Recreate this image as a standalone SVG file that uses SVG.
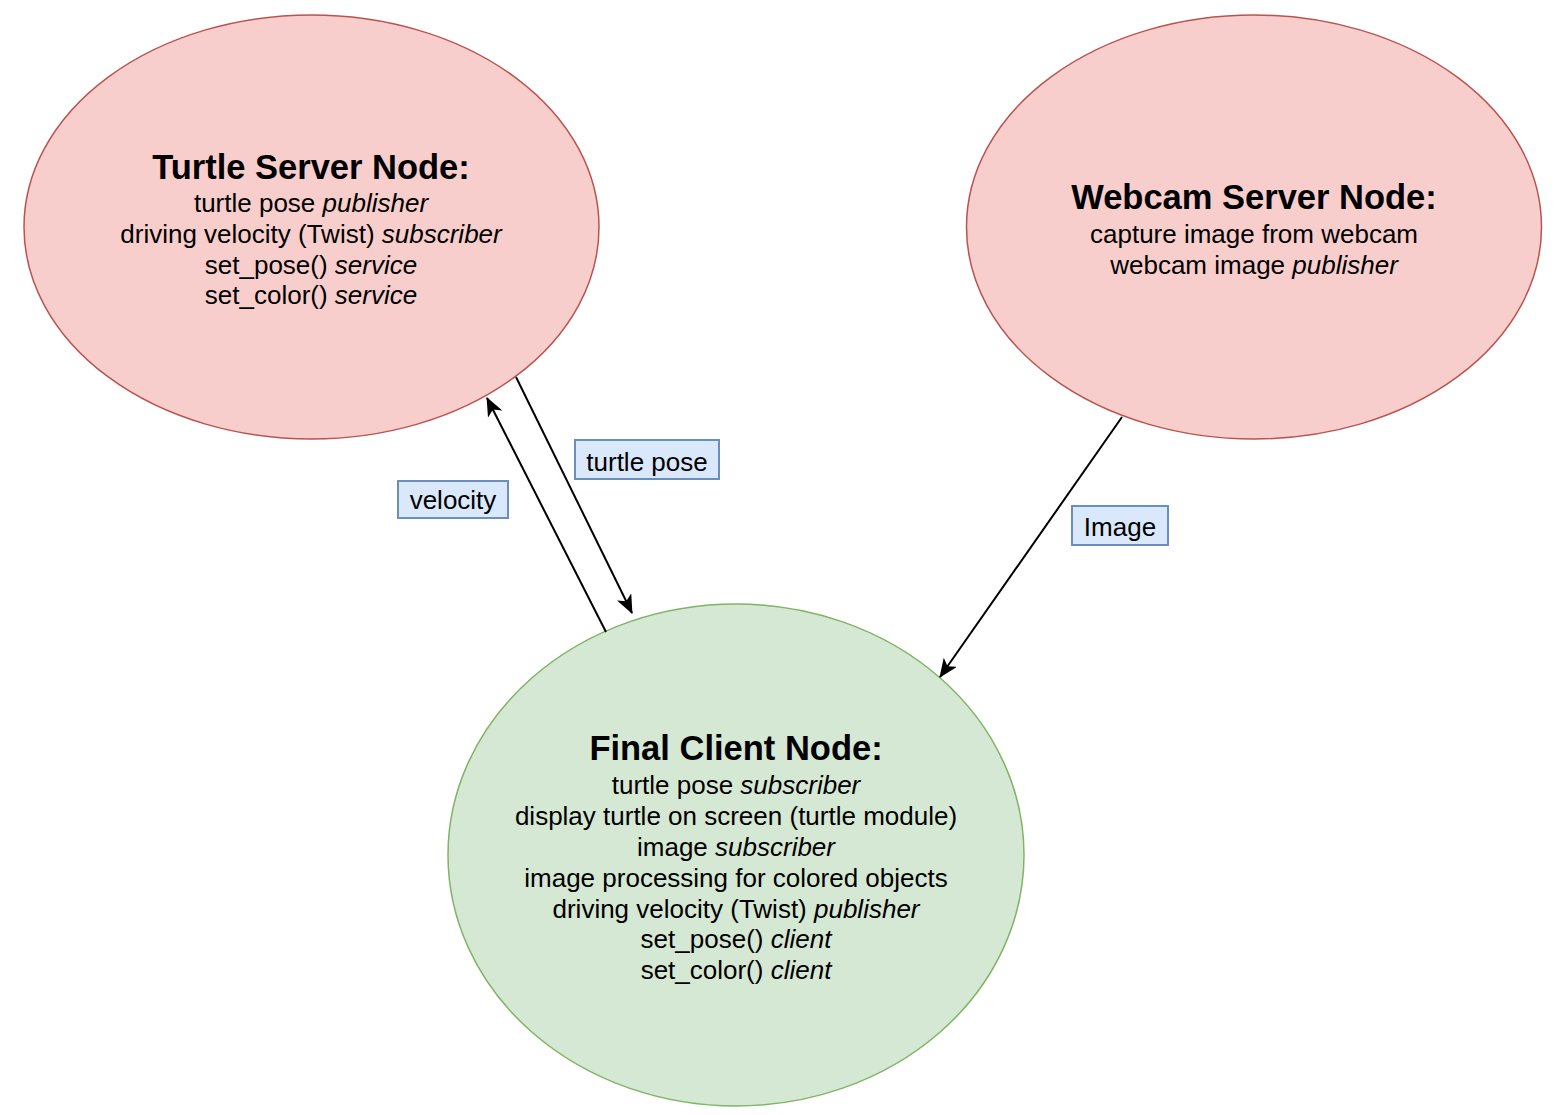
<svg xmlns="http://www.w3.org/2000/svg" width="1554" height="1115" viewBox="0 0 1554 1115">
<style>
text{font-family:"Liberation Sans",Arial,sans-serif;fill:#000;text-anchor:middle}
.t{font-size:34.5px;font-weight:bold}
.b{font-size:26px}
.i{font-style:italic}
.red{fill:#f8cecc;stroke:#b85450;stroke-width:1.5}
.green{fill:#d5e8d4;stroke:#82b366;stroke-width:1.5}
.lbl{fill:#dae8fc;stroke:#6c8ebf;stroke-width:2}
.edge{stroke:#000;stroke-width:2;fill:none;marker-end:url(#arr)}
</style>
<defs>
<marker id="arr" markerUnits="userSpaceOnUse" markerWidth="20" markerHeight="16" refX="18" refY="8" orient="auto">
<path d="M0,0 L19,8 L0,16 L5,8 Z" fill="#000"/>
</marker>
</defs>
<rect width="1554" height="1115" fill="#fff"/>
<g id="turtle-server">
<ellipse class="red" cx="311.5" cy="227" rx="287.5" ry="212"/>
<text class="t" x="311" y="179">Turtle Server Node:</text>
<text class="b" x="311" y="212">turtle pose <tspan class="i">publisher</tspan></text>
<text class="b" x="311" y="243">driving velocity (Twist) <tspan class="i">subscriber</tspan></text>
<text class="b" x="311" y="274">set_pose() <tspan class="i">service</tspan></text>
<text class="b" x="311" y="304">set_color() <tspan class="i">service</tspan></text>
</g>
<g id="webcam-server">
<ellipse class="red" cx="1254" cy="227" rx="287.5" ry="212"/>
<text class="t" x="1254" y="209">Webcam Server Node:</text>
<text class="b" x="1254" y="243">capture image from webcam</text>
<text class="b" x="1254" y="274">webcam image <tspan class="i">publisher</tspan></text>
</g>
<g id="final-client">
<ellipse class="green" cx="736" cy="855" rx="288" ry="251"/>
<text class="t" x="736" y="760">Final Client Node:</text>
<text class="b" x="736" y="794">turtle pose <tspan class="i">subscriber</tspan></text>
<text class="b" x="736" y="825">display turtle on screen (turtle module)</text>
<text class="b" x="736" y="856">image <tspan class="i">subscriber</tspan></text>
<text class="b" x="736" y="887">image processing for colored objects</text>
<text class="b" x="736" y="918">driving velocity (Twist) <tspan class="i">publisher</tspan></text>
<text class="b" x="736" y="948">set_pose() <tspan class="i">client</tspan></text>
<text class="b" x="736" y="979">set_color() <tspan class="i">client</tspan></text>
</g>
<g id="connectors">
<line class="edge" x1="516" y1="377" x2="632" y2="613"/>
<line class="edge" x1="606" y1="632" x2="487" y2="398"/>
<line class="edge" x1="1122" y1="417" x2="940" y2="677"/>
</g>
<g id="label-velocity">
<rect class="lbl" x="398" y="481" width="110" height="37"/>
<text class="b" x="453" y="509">velocity</text>
</g>
<g id="label-turtle-pose">
<rect class="lbl" x="575" y="440" width="144" height="39"/>
<text class="b" x="647" y="471">turtle pose</text>
</g>
<g id="label-image">
<rect class="lbl" x="1072" y="506" width="96" height="39"/>
<text class="b" x="1120" y="536">Image</text>
</g>
</svg>
